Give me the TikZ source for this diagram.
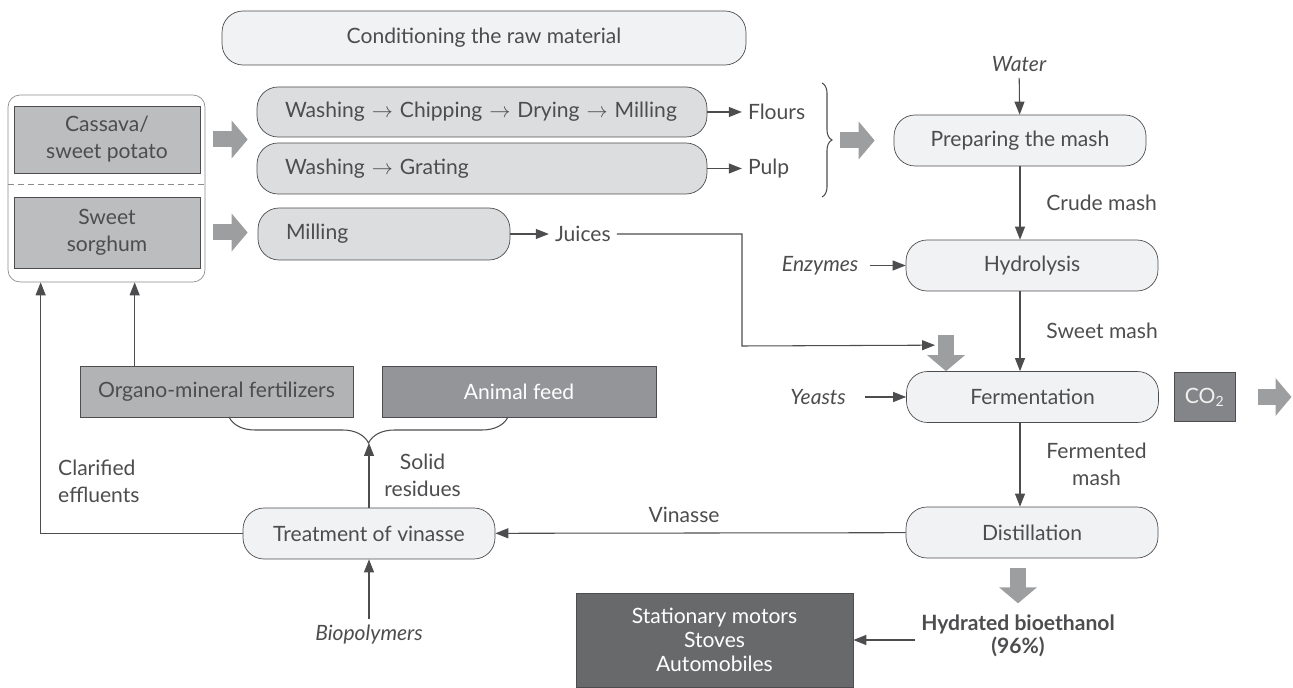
\documentclass[tikz,border=0pt]{standalone}
\usepackage{fontspec}
\setmainfont{Lato}
\usetikzlibrary{positioning,arrows.meta,decorations.pathreplacing}
\definecolor{ink}{HTML}{4D4D4F}
\definecolor{rim}{HTML}{8C8C8E}
\definecolor{palefill}{HTML}{F1F2F4}
\definecolor{washfill}{HTML}{DCDDDF}
\definecolor{cropfill}{HTML}{BCBDBF}
\definecolor{fertfill}{HTML}{B2B3B5}
\definecolor{feedfill}{HTML}{949598}
\definecolor{gasfill}{HTML}{848588}
\definecolor{usefill}{HTML}{68696B}
\definecolor{fatgray}{HTML}{9D9EA0}
\tikzset{
    pill/.style={draw=ink, fill=palefill, rounded corners=0.42cm, inner sep=0pt,
        minimum width=5.04cm, minimum height=1.02cm},
    prep/.style={pill, fill=washfill, minimum width=#1, inner xsep=0.56cm,
        text width=#1-1.12cm, align=left},
    crop/.style={draw=ink, fill=cropfill, inner sep=0pt, minimum width=3.72cm, align=center},
    usebox/.style={draw=ink, inner sep=0pt, minimum height=1.02cm, align=center}
}

\begin{document}
\begin{tikzpicture}[x=0.02cm, y=-0.02cm, font=\fontsize{12}{15.4}\selectfont, text=ink]
\tikzstyle{conn}=[draw=ink, line width=0.6pt, -{Triangle[length=0.26cm,width=0.2cm]}]
\tikzstyle{fat}=[draw=fatgray, line width=0.32cm, -{Triangle[length=0.32cm,width=0.74cm]}]
\tikzstyle{input}=[font=\fontsize{12}{15.4}\selectfont\itshape]
\useasboundingbox (0,0) rectangle (1293,688);

% raw material column
\node[pill, minimum width=10.48cm, minimum height=1.08cm] (cond) at (484,38) {Conditioning the raw material};
\node[draw=rim, fill=white, rounded corners=0.24cm, minimum width=3.94cm, minimum height=3.74cm] (rawbox) at (106.5,188.5) {};
\node[crop, minimum height=1.34cm] (cassava) at (107,139.5) {Cassava/\\sweet potato};
\node[crop, minimum height=1.42cm] (sorghum) at (107,232.5) {Sweet\\sorghum};
\draw[rim, dash pattern=on 0.12cm off 0.08cm] ([yshift=-0.22cm]rawbox.west |- cassava.south) -- ([yshift=-0.22cm]rawbox.east |- cassava.south);

\node[prep=9cm, minimum height=1cm] (chips) at (482,112) {Washing $\rightarrow$ Chipping $\rightarrow$ Drying $\rightarrow$ Milling};
\node[prep=9cm] (grate) at (482,168.5) {Washing $\rightarrow$ Grating};
\node[prep=5.04cm, minimum height=1.04cm] (mill) at (384,234) {Milling};
\node[right=0.69cm of chips] (flours) {Flours};
\node[right=0.69cm of grate] (pulp) {Pulp};
\node[right=0.77cm of mill] (juices) {Juices};

\draw[fat] ([xshift=0.16cm]rawbox.east |- cassava) -- ([xshift=-0.18cm]chips.west |- cassava);
\draw[fat] ([xshift=0.16cm]rawbox.east |- sorghum) -- ([xshift=-0.2cm]mill.west |- sorghum);
\draw[conn] (chips) -- (flours);
\draw[conn] (grate) -- (pulp);
\draw[conn] (mill) -- (juices);
\draw[decorate, decoration={brace, amplitude=0.2cm}, ink, line width=0.6pt] (822,83) -- (822,197);

% process column
\node[pill] (mash) at (1020,140.5) {Preparing the mash};
\node[pill] (hydro) at (1032,265.5) {Hydrolysis};
\node[pill] (ferm) at (1032.5,397) {Fermentation};
\node[pill] (dist) at (1032,532.5) {Distillation};
\coordinate (col) at (1020,0);

\node[input] (water) at (1019,64) {Water};
\node[input, left=0.72cm of hydro, inner xsep=0.22cm] (enzymes) {Enzymes};
\node[input, left=0.82cm of ferm, inner xsep=0.38cm] (yeasts) {Yeasts};

\draw[fat] ([xshift=-1.08cm]mash.west) -- ([xshift=-0.38cm]mash.west);
\draw[conn] (water) -- (mash);
\draw[conn] (col |- mash.south) -- node[right=0.4cm]{Crude mash} (col |- hydro.north);
\draw[conn] (enzymes) -- (hydro);
\draw[conn] (col |- hydro.south) -- node[right=0.4cm]{Sweet mash} (col |- ferm.north);
\draw[conn] (yeasts) -- (ferm);
\draw[conn] (col |- ferm.south) -- node[right=0.4cm, align=center]{Fermented\\mash} (col |- dist.north);

\coordinate (jbend) at (742,346);
\coordinate (jin) at ([xshift=-1.95cm,yshift=0.52cm]ferm.north);
\draw[conn] (juices.east) -| (jbend) -- (jin);
\draw[fat] ([xshift=-1.73cm,yshift=0.72cm]ferm.north) -- ([xshift=-1.73cm]ferm.north);

\node[usebox, fill=gasfill, text=white!92!ink, minimum width=1.22cm, minimum height=0.98cm, right=0.3cm of ferm] (co2) {CO\textsubscript{2}};
\draw[fat] ([xshift=0.44cm]co2.east) -- ([xshift=1.12cm]co2.east);

% products and recycling
\node[font=\fontsize{12}{13.2}\selectfont\bfseries, align=center] (ethanol) at (1018,636) {Hydrated bioethanol\\(96\%)};
\draw[fat] ([xshift=-0.28cm,yshift=-0.2cm]dist.south) -- ([xshift=-0.28cm,yshift=-0.9cm]dist.south);
\node[usebox, fill=usefill, text=white, font=\fontsize{12}{13.8}\selectfont, minimum width=5.54cm, minimum height=1.88cm] (uses) at (714.5,640) {Stationary motors\\Stoves\\Automobiles};
\draw[conn] (ethanol.west |- uses) -- (uses);

\node[pill] (treat) at (369,533.5) {Treatment of vinasse};
\draw[conn] (dist) -- node[pos=0.54, above=0.08cm]{Vinasse} (treat);
\node[input] (biopoly) at (369,635) {Biopolymers};
\draw[conn] (biopoly) -- (treat);

\node[usebox, fill=fertfill, minimum width=5.46cm] (fert) at (216.5,391.5) {Organo-mineral fertilizers};
\node[usebox, fill=feedfill, text=white, minimum width=5.48cm] (feed) at (519,391.5) {Animal feed};
\draw[decorate, decoration={brace, mirror, amplitude=0.52cm}, ink, line width=0.6pt] (229,417) -- (508,417);
\coordinate (tip) at (369,443);
\draw[conn] (treat) -- node[right=0.18cm, align=center]{Solid\\residues} (tip);
\draw[conn] ([xshift=1.1cm]fert.north west) -- ([xshift=1.1cm]fert.north west |- rawbox.south);
\draw[conn] (treat.west) -| ([xshift=0.66cm]rawbox.south west);
\node[align=left, anchor=west] (clar) at (52,481) {Clarified\\effluents};
\end{tikzpicture}
\end{document}
